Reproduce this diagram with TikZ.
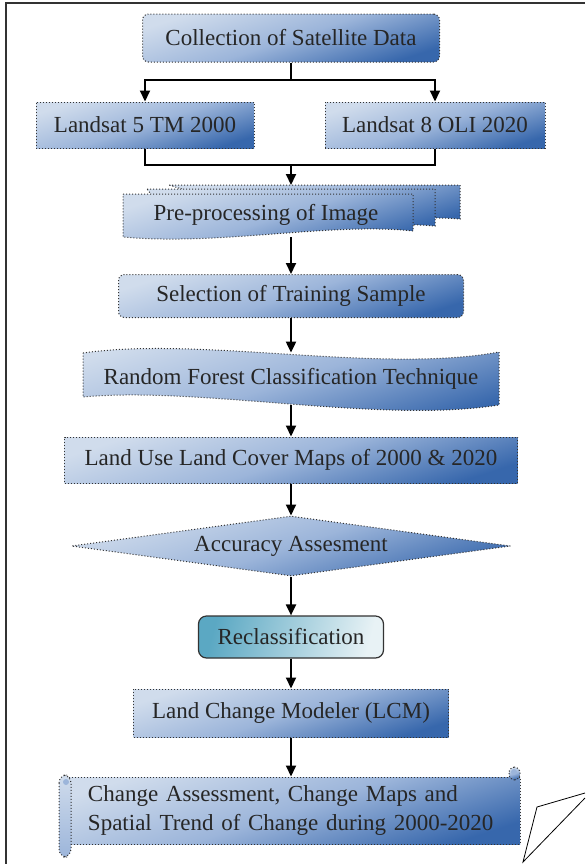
\documentclass[tikz,border=0pt]{standalone}
\usepackage{fontspec}
\setmainfont{Liberation Serif}
\usepackage{xcolor}
\usepackage{tikz}
\usetikzlibrary{shapes.geometric}
\usetikzlibrary{arrows.meta}
\usetikzlibrary{positioning}

\definecolor{flowLight}{HTML}{D0DCEC}
\definecolor{flowMid}{HTML}{9CB5DA}
\definecolor{flowDark}{HTML}{3767AC}
\definecolor{reclLight}{HTML}{E8F2F5}
\definecolor{reclDark}{HTML}{5BA8C3}
\definecolor{dotLine}{HTML}{333333}

\begin{document}
\begin{tikzpicture}[x=0.5pt, y=-0.5pt,
    every node/.style={font=\fontsize{11.5}{14.5}\selectfont, text=black!85, inner sep=0pt},
    blue fill/.style={top color=flowLight, bottom color=flowDark, middle color=flowMid, shading angle=18},
    flow box/.style={rectangle, blue fill, draw=dotLine, densely dotted, line width=0.5pt},
    round box/.style={flow box, rounded corners=3pt},
    recl box/.style={rectangle, rounded corners=4pt, draw=black!80, line width=0.6pt,
      left color=reclDark, right color=reclLight, shading angle=75},
    arrow/.style={-{Triangle[width=5pt,length=5.5pt]}, line width=1pt},
    link/.style={line width=1pt},
  ]
  \useasboundingbox (0,0) rectangle (585,864);

  % page frame and folded corner
  \draw[black!80, line width=0.75pt] (6,864) -- (6,3) -- (585,3);
  \draw[black, line width=0.4pt] (585,793) -- (537,807) -- (523,862) -- (585,798);

  % Satellite data
  \node[round box, minimum width=148.5pt, minimum height=24pt] (coll) at (291,38) {Collection of Satellite Data};
  \node[flow box, minimum width=109pt, minimum height=23pt] (ls5) at (145,125) {Landsat 5 TM 2000};
  \node[flow box, minimum width=110pt, minimum height=23pt] (ls8) at (435,125) {Landsat 8 OLI 2020};

  % Pre-processing (stacked documents)
  \path[blue fill, draw=dotLine, densely dotted, line width=0.5pt]
    (169,185) -- (460,185) -- (460,219) .. controls (400,214) and (330,228) .. (300,226) -- cycle;
  \path[blue fill, draw=dotLine, densely dotted, line width=0.5pt]
    (147,189) -- (435,189) -- (435,226) .. controls (370,220) and (250,236) .. (180,232) -- cycle;
  \path[blue fill, draw=dotLine, densely dotted, line width=0.5pt]
    (123,194) -- (413,194) -- (413,231) .. controls (330,222) and (220,246) .. (123,237) -- cycle;
  \node[minimum width=145pt, minimum height=22pt] (pre) at (266,215) {Pre-processing of Image};
  \coordinate (preTop) at (291,185);

  % Training and classification
  \node[round box, minimum width=172.5pt, minimum height=21.5pt] (sel) at (291,296) {Selection of Training Sample};
  \path[blue fill, draw=dotLine, densely dotted, line width=0.5pt]
    (83,353) .. controls (200,336) and (380,374) .. (499,352) -- (499,405)
    .. controls (380,424) and (200,386) .. (83,397) -- cycle;
  \node[minimum width=208pt, minimum height=26pt] (rf) at (291,379) {Random Forest Classification Technique};

  % Maps and accuracy
  \node[flow box, minimum width=226.5pt, minimum height=23pt] (lulc) at (291,460) {Land Use Land Cover Maps of 2000 \& 2020};
  \node[diamond, aspect=7.3, blue fill, draw=dotLine, densely dotted, line width=0.5pt,
    minimum width=219.5pt, minimum height=30pt] (acc) at (291,546) {Accuracy Assesment};
  \node[recl box, minimum width=92.5pt, minimum height=21pt] (recl) at (291,637) {Reclassification};
  \node[flow box, minimum width=157.5pt, minimum height=24pt] (lcm) at (291,713) {Land Change Modeler (LCM)};

  % Final scroll
  \node[flow box, minimum height=33.5pt, text width=203pt, inner xsep=13pt, align=left] (chg) at (291,810.5)
    {Change Assessment, Change Maps and\\Spatial Trend of Change during 2000-2020};
  \path[blue fill, draw=dotLine, densely dotted, line width=0.5pt, rounded corners=3pt]
    (509,767) rectangle (520,780);
  \fill[flowMid] (514,772) circle (3);
  \path[top color=flowLight, bottom color=flowMid, draw=dotLine, densely dotted, line width=0.5pt,
    rounded corners=4pt] (59,775) rectangle (71,857);
  \fill[flowMid] (66,782) circle (3);

  % Connectors
  \coordinate (splitTop) at (291,80);
  \coordinate (joinBot) at (291,165);
  \draw[link] (coll) -- (splitTop);
  \draw[arrow] (splitTop) -| (ls5);
  \draw[arrow] (splitTop) -| (ls8);
  \draw[link] (ls5) |- (joinBot);
  \draw[link] (ls8) |- (joinBot);
  \draw[arrow] (joinBot) -- (preTop);
  \draw[arrow] (pre.south -| sel.north) -- (sel);
  \draw[arrow] (sel) -- (rf);
  \draw[arrow] (rf) -- (lulc);
  \draw[arrow] (lulc) -- (acc);
  \draw[arrow] (acc) -- (recl);
  \draw[arrow] (recl) -- (lcm);
  \draw[arrow] (lcm) -- (chg);

\end{tikzpicture}
\end{document}
